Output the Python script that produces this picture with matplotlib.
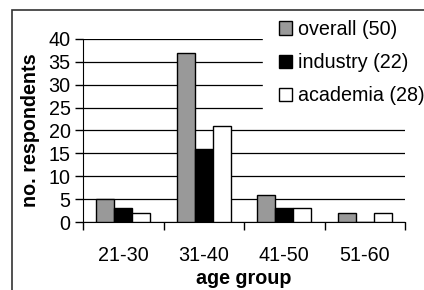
import numpy as np
import matplotlib
matplotlib.use("Agg")
import matplotlib.pyplot as plt
from matplotlib.patches import Rectangle

groups = ['21-30', '31-40', '41-50', '51-60']
overall = [5, 37, 6, 2]
industry = [3, 16, 3, 0]
academia = [2, 21, 3, 2]
labels = ['overall (50)', 'industry (22)', 'academia (28)']

plt.rcParams['font.family'] = ['Liberation Sans', 'DejaVu Sans']
fs = 14.2

fig = plt.figure(figsize=(4.24, 2.90), dpi=100)
# outer chart border (only left and top edges visible in the crop)
fig.patches.append(Rectangle((12/424, -0.1), 2, 1 - 9.5/290 + 0.1, transform=fig.transFigure,
                             fill=False, edgecolor='#333333', lw=1.2, zorder=5))
ax = fig.add_axes([83/424, 1 - 222/290, (405 - 83)/424, (222 - 39)/290])

x = np.arange(len(groups))
w = 0.224
ax.bar(x - w, overall, w, color='#999999', edgecolor='black', lw=1, label=labels[0], zorder=3)
ax.bar(x, industry, w, color='black', edgecolor='black', lw=1, label=labels[1], zorder=3)
ax.bar(x + w, academia, w, color='white', edgecolor='black', lw=1, label=labels[2], zorder=3)

ax.set_xlim(-0.5, 3.5)
ax.set_ylim(0, 40)
ax.set_yticks(range(0, 41, 5))
ax.yaxis.grid(True, color='black', lw=0.9)
ax.set_axisbelow(True)
ax.set_xticks(np.arange(-0.5, 4, 1))
ax.set_xticklabels([])
ax.set_xticks(x, minor=True)
ax.set_xticklabels(groups, minor=True, fontsize=fs)
ax.tick_params(axis='x', which='major', length=6, width=1, direction='out')
ax.tick_params(axis='x', which='minor', length=0, pad=17)
ax.tick_params(axis='y', length=6, width=1, labelsize=fs, pad=3)
for s in ['top', 'right']:
    ax.spines[s].set_visible(False)

ax.set_xlabel('age group', fontsize=fs, fontweight='bold', labelpad=3)
ax.set_ylabel('no. respondents', fontsize=fs, fontweight='bold', labelpad=6)

leg = ax.legend(loc='upper left', bbox_to_anchor=(263/424, 1 - 4/290), bbox_transform=fig.transFigure,
                fontsize=fs, frameon=True, fancybox=False, handlelength=0.66, handleheight=0.66,
                handletextpad=0.3, labelspacing=0.72, borderpad=0.81, borderaxespad=0)
leg.get_frame().set_facecolor('white')
leg.get_frame().set_edgecolor('white')
leg.get_frame().set_alpha(1)
leg.set_zorder(10)

fig.savefig('out.png', dpi=100)
